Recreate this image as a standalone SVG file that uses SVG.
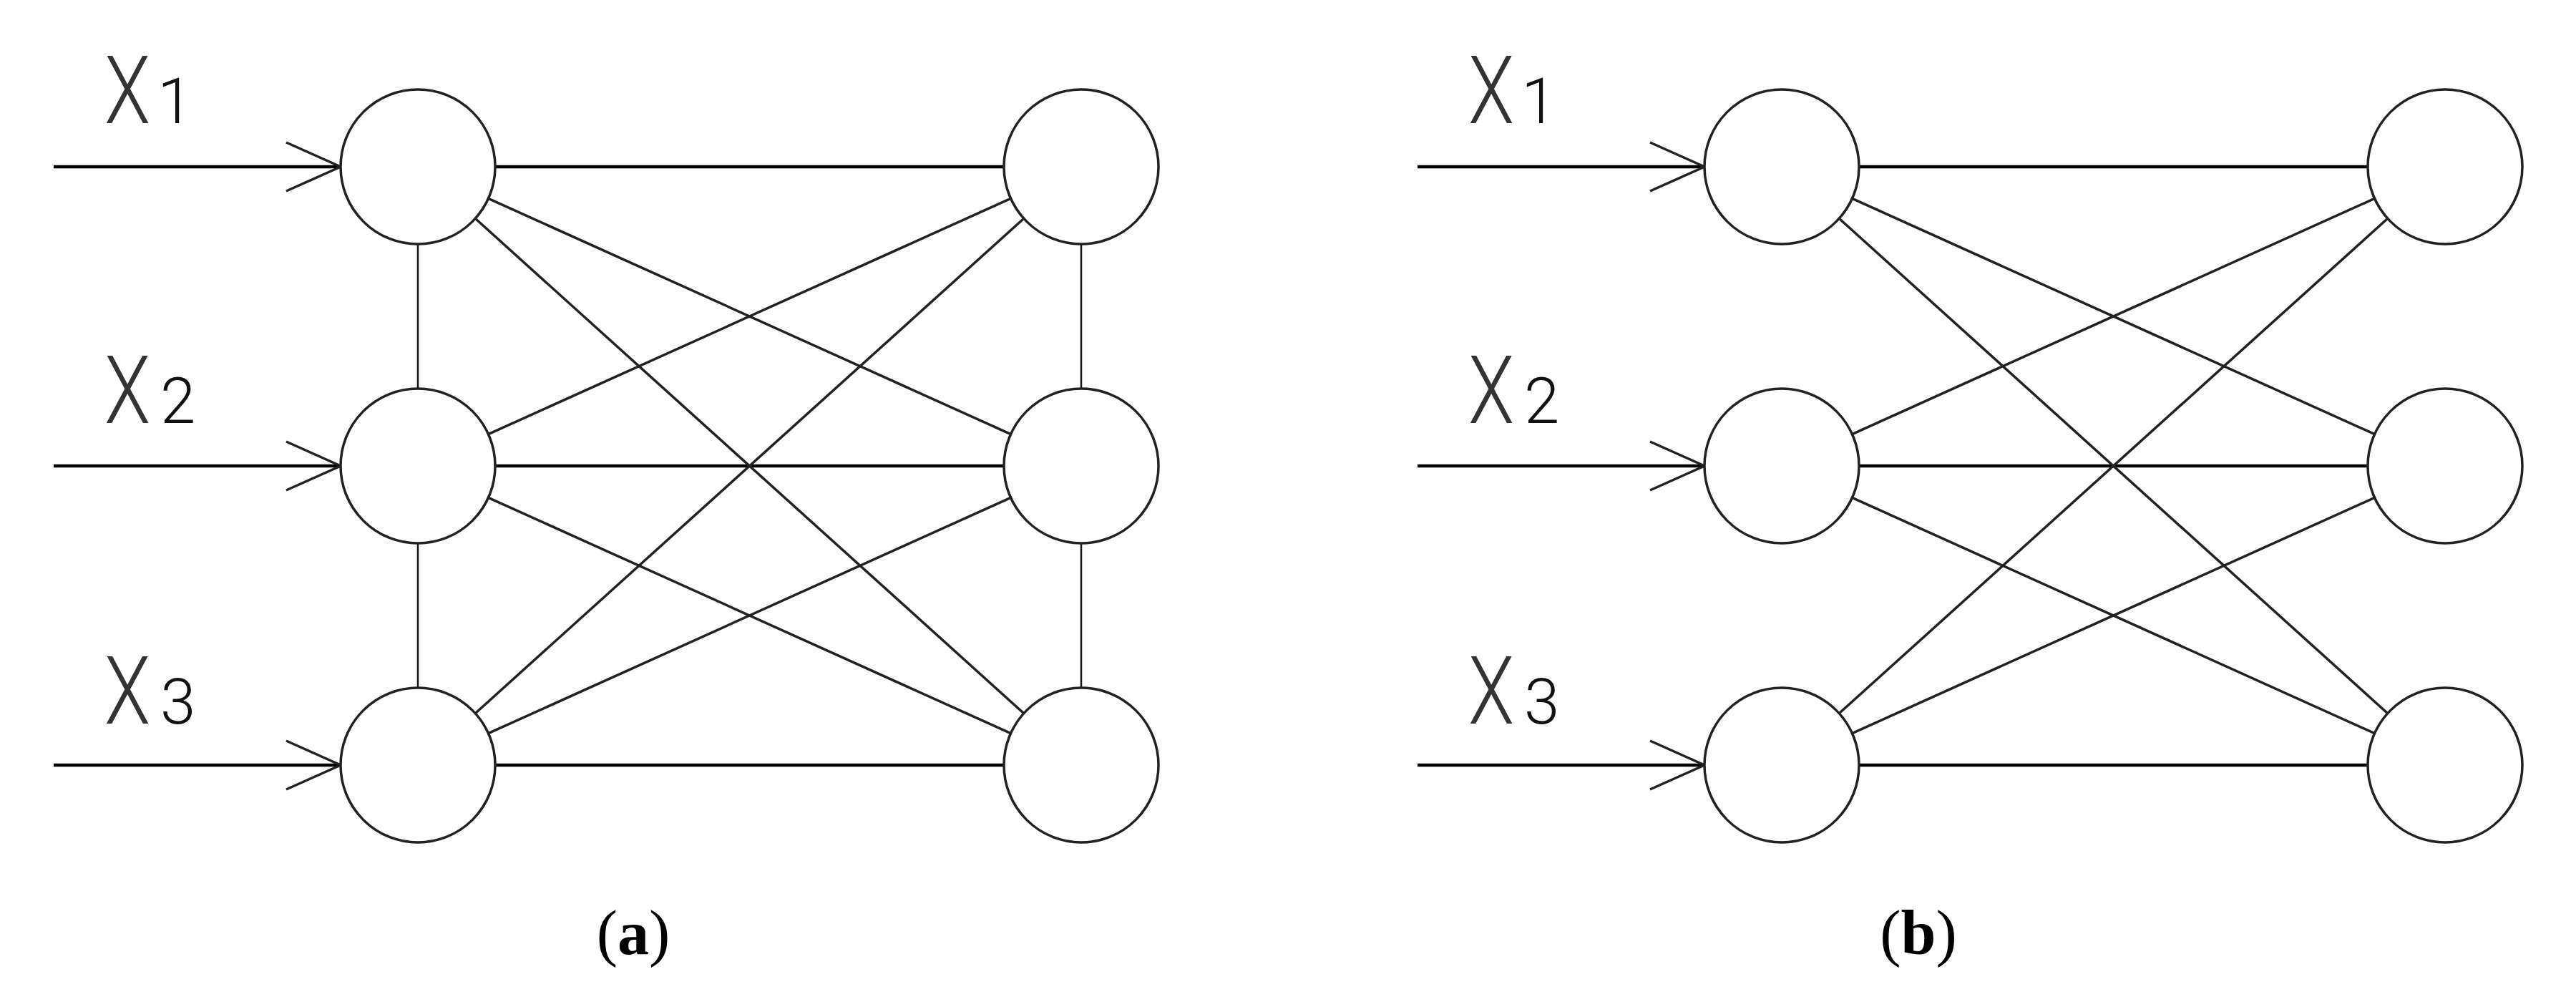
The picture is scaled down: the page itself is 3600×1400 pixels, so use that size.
<svg xmlns="http://www.w3.org/2000/svg" width="3600" height="1400" viewBox="0 0 3600 1400">
<style>
.bg{fill:#fff}
.node{fill:#fff;stroke:#222;stroke-width:3.5}
.h{stroke:#000;stroke-width:4.5;fill:none}
.d{stroke:#222;stroke-width:3.5;fill:none}
.v{stroke:#111;stroke-width:2.5;fill:none}
.lbl{font-family:Roboto,"Liberation Sans",sans-serif;font-weight:300;fill:#333;font-size:131px}
.sub{font-family:Roboto,"Liberation Sans",sans-serif;font-weight:300;fill:#111;font-size:89px}
.cap{font-family:"Liberation Serif",serif;font-size:88px;fill:#000}
</style>
<defs>
<g id="inputs">
<line class="h" x1="75" y1="233" x2="476" y2="233"/>
<polyline class="d" points="400,199 476,233 400,267"/>
<line class="h" x1="75" y1="651" x2="476" y2="651"/>
<polyline class="d" points="400,617 476,651 400,685"/>
<line class="h" x1="75" y1="1069" x2="476" y2="1069"/>
<polyline class="d" points="400,1035 476,1069 400,1103"/>
</g>
<g id="bip">
<line class="h" x1="692" y1="233" x2="1403" y2="233"/>
<line class="h" x1="692" y1="651" x2="1403" y2="651"/>
<line class="h" x1="692" y1="1069" x2="1403" y2="1069"/>
<line class="d" x1="682.5" y1="277.4" x2="1412.5" y2="606.6"/>
<line class="d" x1="682.5" y1="695.4" x2="1412.5" y2="1024.6"/>
<line class="d" x1="682.5" y1="606.6" x2="1412.5" y2="277.4"/>
<line class="d" x1="682.5" y1="1024.6" x2="1412.5" y2="695.4"/>
<line class="d" x1="664.2" y1="305.3" x2="1430.8" y2="996.7"/>
<line class="d" x1="664.2" y1="996.7" x2="1430.8" y2="305.3"/>
</g>
</defs>
<rect class="bg" x="0" y="0" width="3600" height="1400"/>

<g id="connectors">
<use href="#inputs"/>
<use href="#bip"/>
<line class="v" x1="584" y1="341" x2="584" y2="543"/>
<line class="v" x1="584" y1="759" x2="584" y2="961"/>
<line class="v" x1="1511" y1="341" x2="1511" y2="543"/>
<line class="v" x1="1511" y1="759" x2="1511" y2="961"/>
<use href="#inputs" transform="translate(1906,0)"/>
<use href="#bip" transform="translate(1906,0)"/>
</g>

<g id="a-in1"><circle class="node" cx="584" cy="233" r="108"/></g>
<g id="a-in2"><circle class="node" cx="584" cy="651" r="108"/></g>
<g id="a-in3"><circle class="node" cx="584" cy="1069" r="108"/></g>
<g id="a-out1"><circle class="node" cx="1511" cy="233" r="108"/></g>
<g id="a-out2"><circle class="node" cx="1511" cy="651" r="108"/></g>
<g id="a-out3"><circle class="node" cx="1511" cy="1069" r="108"/></g>
<g id="b-in1"><circle class="node" cx="2490" cy="233" r="108"/></g>
<g id="b-in2"><circle class="node" cx="2490" cy="651" r="108"/></g>
<g id="b-in3"><circle class="node" cx="2490" cy="1069" r="108"/></g>
<g id="b-out1"><circle class="node" cx="3417" cy="233" r="108"/></g>
<g id="b-out2"><circle class="node" cx="3417" cy="651" r="108"/></g>
<g id="b-out3"><circle class="node" cx="3417" cy="1069" r="108"/></g>

<g id="labels">
<text class="lbl" transform="translate(146,172) scale(0.8,1)">X</text><text class="sub" x="220" y="172">1</text>
<text class="lbl" transform="translate(146,591) scale(0.8,1)">X</text><text class="sub" x="224" y="591">2</text>
<text class="lbl" transform="translate(146,1011) scale(0.8,1)">X</text><text class="sub" x="224" y="1011">3</text>
<text class="lbl" transform="translate(2052,172) scale(0.8,1)">X</text><text class="sub" x="2126" y="172">1</text>
<text class="lbl" transform="translate(2052,591) scale(0.8,1)">X</text><text class="sub" x="2130" y="591">2</text>
<text class="lbl" transform="translate(2052,1011) scale(0.8,1)">X</text><text class="sub" x="2130" y="1011">3</text>
<text class="cap" x="885" y="1333" text-anchor="middle">(<tspan font-weight="bold">a</tspan>)</text>
<text class="cap" x="2681" y="1333" text-anchor="middle">(<tspan font-weight="bold">b</tspan>)</text>
</g>
</svg>
